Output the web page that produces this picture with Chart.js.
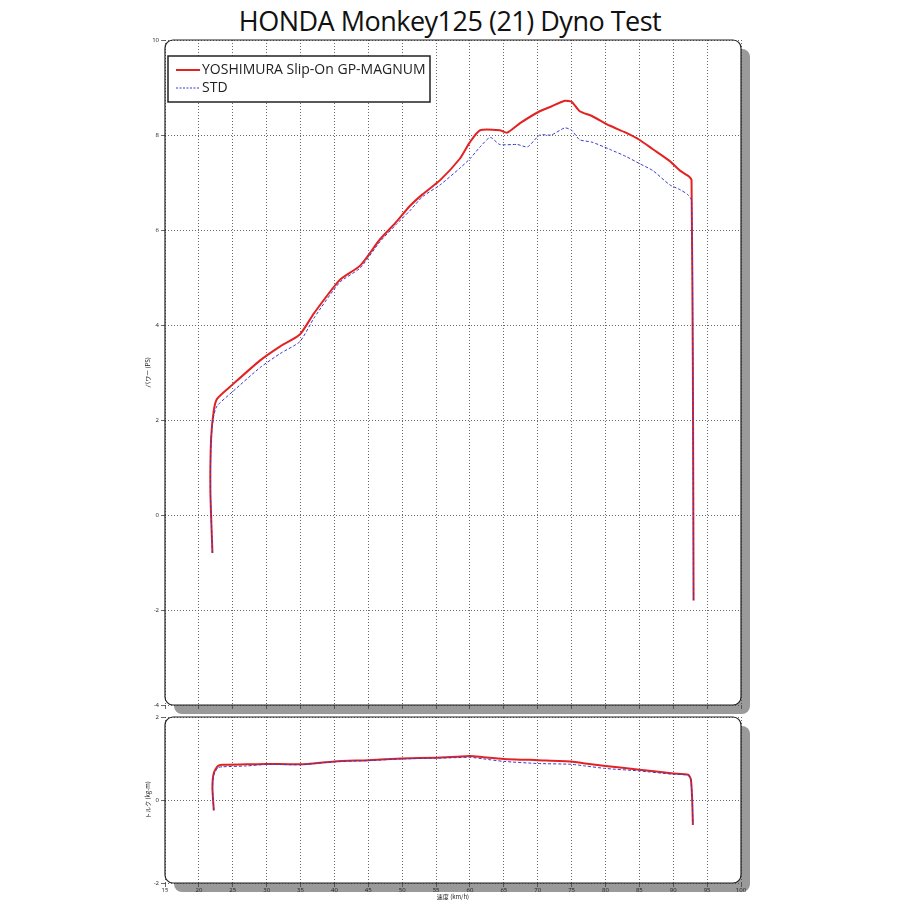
<!DOCTYPE html>
<html>
<head>
<meta charset="utf-8">
<script src="https://cdn.jsdelivr.net/npm/chart.js@4.4.0/dist/chart.umd.min.js"></script>
<style>
  body { margin: 0; background: #fff; width: 900px; height: 900px; position: relative; overflow: hidden; }
  #title { position: absolute; top: 2px; left: 0; width: 900px; text-align: center; font-family: 'Open Sans', sans-serif; font-size: 27px; color: #111; letter-spacing: -0.5px; }
  canvas { position: absolute; left: 0; }
</style>
</head>
<body>
<div id="title">HONDA Monkey125 (21) Dyno Test</div>
<div style="position:absolute;top:0;left:0;width:900px;height:720px"><canvas id="power"></canvas></div>
<div style="position:absolute;top:708px;left:0;width:900px;height:192px"><canvas id="torque"></canvas></div>
<script>
(function () {
	'use strict';

	/* ---------- Data ---------- */

	var yoshiPowerX = [22.0, 21.7, 21.8, 22.2, 22.7, 25, 29, 32, 34.9, 37, 40.8, 43.8, 46.7, 49, 51.1, 53, 55.6, 58.5, 60, 61.5, 64.4, 65.5, 67.4, 70.3, 72, 74, 75, 76.2, 78, 80.6, 83, 85, 87, 89.5, 91, 92.1, 92.5, 92.7, 92.9, 93.0];
	var yoshiPowerY = [-0.8, 0.5, 1.6, 2.2, 2.45, 2.75, 3.25, 3.55, 3.8, 4.25, 4.95, 5.25, 5.8, 6.15, 6.5, 6.75, 7.05, 7.5, 7.85, 8.1, 8.1, 8.05, 8.25, 8.5, 8.6, 8.72, 8.7, 8.5, 8.4, 8.2, 8.05, 7.9, 7.7, 7.45, 7.25, 7.15, 7.1, 7.05, 3.0, -1.8];
	var stdPowerX = [22.0, 21.7, 21.8, 22.2, 22.7, 25, 29, 32, 34.9, 37, 40.8, 43.8, 46.7, 49, 51.1, 53, 55.6, 58.5, 60, 61.5, 63, 64.4, 67, 68.5, 70.3, 72, 74, 75, 76.2, 78, 80.6, 83, 85, 87, 89.5, 91, 92.1, 92.7, 92.9, 93.0];
	var stdPowerY = [-0.8, 0.5, 1.6, 2.1, 2.3, 2.6, 3.1, 3.4, 3.65, 4.15, 4.9, 5.2, 5.75, 6.1, 6.4, 6.7, 6.95, 7.3, 7.5, 7.75, 7.95, 7.8, 7.8, 7.75, 8.0, 8.0, 8.15, 8.1, 7.9, 7.85, 7.7, 7.55, 7.4, 7.25, 6.95, 6.85, 6.75, 6.63, 3.0, -1.8];

	var yoshiTorqueX = [22.2, 22.0, 22.2, 22.8, 23.5, 27, 30, 35, 40, 45, 50, 55, 58, 60, 62, 65, 70, 75, 77, 80, 85, 90, 92.2, 92.6, 92.8, 92.9];
	var yoshiTorqueY = [-0.25, 0.3, 0.65, 0.82, 0.85, 0.86, 0.87, 0.86, 0.93, 0.96, 1.0, 1.02, 1.04, 1.06, 1.03, 0.99, 0.96, 0.93, 0.88, 0.82, 0.73, 0.64, 0.61, 0.5, 0.0, -0.6];
	var stdTorqueX = [22.2, 22.0, 22.2, 22.8, 23.5, 27, 30, 35, 40, 45, 50, 55, 58, 60, 62, 65, 70, 75, 77, 80, 85, 90, 92.2, 92.6, 92.8, 92.9];
	var stdTorqueY = [-0.25, 0.3, 0.6, 0.78, 0.8, 0.82, 0.86, 0.85, 0.92, 0.95, 0.99, 1.01, 1.02, 1.03, 0.99, 0.93, 0.88, 0.86, 0.82, 0.76, 0.7, 0.62, 0.6, 0.5, 0.0, -0.6];

	var LABELS = ['YOSHIMURA Slip-On GP-MAGNUM', 'STD'];
	var RED = '#e32222';
	var BLUE = '#3a3acc';

	function pts(xs, ys) {
		return xs.map(function (x, i) { return { x: x, y: ys[i] }; });
	}

	/* ---------- Plot frame plugin ---------- */

	function roundRect(ctx, x, y, w, h, r) {
		ctx.beginPath();
		ctx.moveTo(x + r, y);
		ctx.arcTo(x + w, y, x + w, y + h, r);
		ctx.arcTo(x + w, y + h, x, y + h, r);
		ctx.arcTo(x, y + h, x, y, r);
		ctx.arcTo(x, y, x + w, y, r);
		ctx.closePath();
	}

	var framePlugin = {
		id: 'frame',
		beforeDraw: function (chart) {
			var a = chart.chartArea, ctx = chart.ctx;
			ctx.save();
			ctx.fillStyle = '#9a9a9a';
			roundRect(ctx, a.left + 9, a.top + 9, a.right - a.left, a.bottom - a.top, 8);
			ctx.fill();
			ctx.fillStyle = '#fff';
			roundRect(ctx, a.left, a.top, a.right - a.left, a.bottom - a.top, 8);
			ctx.fill();
			ctx.restore();
		},
		afterDraw: function (chart) {
			var a = chart.chartArea, ctx = chart.ctx;
			var opts = chart.options.plugins.frame || {};
			ctx.save();
			ctx.strokeStyle = '#222';
			ctx.lineWidth = 1.2;
			roundRect(ctx, a.left, a.top, a.right - a.left, a.bottom - a.top, 8);
			ctx.stroke();

			// Y axis title, close to the tick labels.
			ctx.save();
			ctx.translate(148, (a.top + a.bottom) / 2);
			ctx.rotate(-Math.PI / 2);
			ctx.font = '6px "Noto Sans CJK JP"';
			ctx.fillStyle = '#222';
			ctx.textAlign = 'center';
			ctx.textBaseline = 'middle';
			ctx.fillText(opts.yTitle, 0, 0);
			ctx.restore();

			if (opts.legend) {
				var x = 168, y = 56;
				ctx.fillStyle = '#fff';
				ctx.fillRect(x, y, 262, 46);
				ctx.strokeStyle = '#222';
				ctx.lineWidth = 1.5;
				ctx.strokeRect(x, y, 262, 46);
				ctx.font = '14px "Open Sans", sans-serif';
				ctx.textBaseline = 'middle';
				ctx.fillStyle = '#222';
				ctx.strokeStyle = RED;
				ctx.lineWidth = 2;
				ctx.beginPath(); ctx.moveTo(176, 70); ctx.lineTo(200, 70); ctx.stroke();
				ctx.fillText(LABELS[0], 202, 70);
				ctx.strokeStyle = BLUE;
				ctx.lineWidth = 1;
				ctx.setLineDash([2, 1.5]);
				ctx.beginPath(); ctx.moveTo(176, 88); ctx.lineTo(200, 88); ctx.stroke();
				ctx.setLineDash([]);
				ctx.fillText(LABELS[1], 202, 88);
			}
			ctx.restore();
		}
	};

	function grid() {
		return { color: '#444', lineWidth: 0.8, tickLength: 4, tickColor: '#444' };
	}

	function buildChart(id, yMin, yMax, yTitle, yData, sData, padTop, xHeight, showX, legend) {
		var ctx = document.getElementById(id);
		return new Chart(ctx, {
			type: 'line',
			data: {
				datasets: [
					{ label: LABELS[1], data: sData, borderColor: BLUE, borderWidth: 1, borderDash: [3, 2], pointRadius: 0, tension: 0.2, fill: false },
					{ label: LABELS[0], data: yData, borderColor: RED, borderWidth: 2, pointRadius: 0, tension: 0.2, fill: false }
				]
			},
			options: {
				responsive: true,
				maintainAspectRatio: false,
				animation: false,
				layout: { padding: { top: padTop, right: 159, left: 0, bottom: 0 } },
				plugins: { legend: { display: false }, tooltip: { enabled: false }, frame: { legend: legend, yTitle: yTitle } },
				scales: {
					x: {
						type: 'linear', min: 15, max: 100,
						ticks: { stepSize: 5, display: showX, color: '#222', font: { size: 6 }, padding: 0, maxRotation: 0 },
						grid: grid(),
						border: { display: false, dash: [1, 2] },
						title: { display: showX, text: '速度 (km/h)', font: { size: 6, family: '"Noto Sans CJK JP"' }, color: '#222', padding: 0 },
						afterFit: function (s) { s.height = xHeight; }
					},
					y: {
						min: yMin, max: yMax,
						ticks: { stepSize: 2, color: '#222', font: { size: 6 }, padding: 2 },
						grid: grid(),
						border: { display: false, dash: [1, 2] },
						afterFit: function (s) { s.width = 165; }
					}
				}
			},
			plugins: [framePlugin]
		});
	}

	Chart.defaults.font.family = '"Open Sans", sans-serif';

	buildChart('power', -4, 10, 'パワー (PS)', pts(yoshiPowerX, yoshiPowerY), pts(stdPowerX, stdPowerY), 40, 15, false, true);
	buildChart('torque', -2, 2, 'トルク (kg-m)', pts(yoshiTorqueX, yoshiTorqueY), pts(stdTorqueX, stdTorqueY), 9, 17, true, false);
})();
</script>
</body>
</html>
